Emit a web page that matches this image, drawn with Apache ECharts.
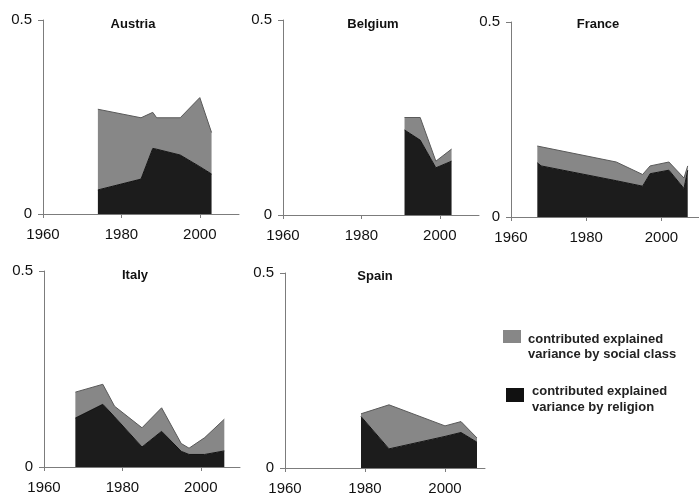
<!DOCTYPE html>
<html>
<head>
<meta charset="utf-8">
<script src="https://cdn.jsdelivr.net/npm/echarts@6/dist/echarts.min.js"></script>
<style>
  html, body { margin: 0; padding: 0; background: #fff; }
  #chart { width: 699px; height: 499px; }
</style>
</head>
<body>
<div id="chart"></div>
<script>
// Explained variance of vote choice, split into the share contributed by
// religion (bottom layer) and by social class (stacked on top).
const countries = ['Austria', 'Belgium', 'France', 'Italy', 'Spain'];

const austriaYears    = [1974, 1985, 1988, 1989, 1995, 2000, 2003];
const austriaReligion = [0.062, 0.090, 0.169, 0.167, 0.152, 0.122, 0.103];
const austriaClass    = [0.208, 0.158, 0.093, 0.081, 0.096, 0.178, 0.107];

const belgiumYears    = [1991, 1995, 1999, 2003];
const belgiumReligion = [0.218, 0.192, 0.121, 0.138];
const belgiumClass    = [0.032, 0.058, 0.017, 0.031];

const franceYears    = [1967, 1968, 1988, 1995, 1997, 2002, 2006, 2007];
const franceReligion = [0.139, 0.131, 0.093, 0.079, 0.111, 0.120, 0.073, 0.120];
const franceClass    = [0.043, 0.049, 0.048, 0.030, 0.020, 0.021, 0.027, 0.011];

const italyYears    = [1968, 1975, 1978, 1985, 1990, 1995, 1997, 2001, 2006];
const italyReligion = [0.125, 0.160, 0.128, 0.051, 0.091, 0.040, 0.032, 0.032, 0.041];
const italyClass    = [0.066, 0.051, 0.027, 0.049, 0.060, 0.020, 0.016, 0.043, 0.081];

const spainYears    = [1979, 1986, 2000, 2004, 2008];
const spainReligion = [0.132, 0.049, 0.081, 0.091, 0.066];
const spainClass    = [0.007, 0.113, 0.027, 0.028, 0.011];

const xTicks = [1960, 1980, 2000];
const yTicks = [0, 0.5];

const classLabel = 'contributed explained\nvariance by social class';
const religionLabel = 'contributed explained\nvariance by religion';

const panels = [
  { years: austriaYears, religion: austriaReligion, cls: austriaClass,
    grid: { left: 43, top: 20, width: 196, height: 194 }, title: [133, 24] },
  { years: belgiumYears, religion: belgiumReligion, cls: belgiumClass,
    grid: { left: 283, top: 20, width: 196, height: 195 }, title: [373, 24] },
  { years: franceYears, religion: franceReligion, cls: franceClass,
    grid: { left: 511, top: 22, width: 197, height: 195 }, title: [598, 24] },
  { years: italyYears, religion: italyReligion, cls: italyClass,
    grid: { left: 44, top: 271, width: 196, height: 196 }, title: [135, 275] },
  { years: spainYears, religion: spainReligion, cls: spainClass,
    grid: { left: 285, top: 273, width: 200, height: 195 }, title: [375, 276] }
];

const FONT = '"Liberation Sans", Arial, sans-serif';
const AXIS_COLOR = '#7c7c7c';
const RELIGION_COLOR = '#1c1c1c';
const CLASS_COLOR = '#878787';

// Rows are [share, year]; the share column comes first so that the stack
// accumulates shares (not years), and encode maps it onto the y axis.
const rows = (xs, vs) => xs.map((x, i) => [vs[i], x]);
const ENCODE = { x: 1, y: 0 };

const grids = [], xAxes = [], yAxes = [], series = [], graphics = [];

panels.forEach((p, i) => {
  grids.push(Object.assign({ containLabel: false }, p.grid));
  xAxes.push({
    type: 'value', gridIndex: i, min: 1960, max: 2010,
    splitLine: { show: false },
    axisLine: { onZero: false, lineStyle: { color: AXIS_COLOR, width: 1 } },
    axisTick: { show: true, length: 4, customValues: xTicks, lineStyle: { color: AXIS_COLOR } },
    axisLabel: { customValues: xTicks, margin: 13, color: '#111', fontSize: 15, fontFamily: FONT,
                 formatter: v => String(v) }
  });
  yAxes.push({
    type: 'value', gridIndex: i, min: 0, max: 0.5,
    splitLine: { show: false },
    axisLine: { show: true, lineStyle: { color: AXIS_COLOR, width: 1 } },
    axisTick: { show: true, length: 5, customValues: yTicks, lineStyle: { color: AXIS_COLOR } },
    axisLabel: { customValues: yTicks, margin: 11, color: '#111', fontSize: 15, fontFamily: FONT,
                 formatter: v => String(v) }
  });
  series.push({
    name: 'religion', type: 'line', xAxisIndex: i, yAxisIndex: i,
    stack: 'panel' + i, symbol: 'none', silent: true, encode: ENCODE,
    lineStyle: { color: '#111', width: 1 },
    areaStyle: { color: RELIGION_COLOR, opacity: 1 },
    data: rows(p.years, p.religion)
  });
  series.push({
    name: 'social class', type: 'line', xAxisIndex: i, yAxisIndex: i,
    stack: 'panel' + i, symbol: 'none', silent: true, encode: ENCODE,
    lineStyle: { color: '#5a5a5a', width: 1 },
    areaStyle: { color: CLASS_COLOR, opacity: 1 },
    data: rows(p.years, p.cls)
  });
  graphics.push({
    type: 'text', x: p.title[0], y: p.title[1],
    style: {
      text: countries[i], textAlign: 'center', textVerticalAlign: 'middle',
      font: 'bold 13px ' + FONT, fill: '#111'
    }
  });
});

// Legend: two swatches with their two-line captions
const legendFont = 'bold 13px ' + FONT;
graphics.push(
  { type: 'rect', shape: { x: 503, y: 330, width: 18, height: 13 }, style: { fill: CLASS_COLOR } },
  { type: 'text', x: 528, y: 332,
    style: { text: classLabel, font: legendFont, fill: '#222', lineHeight: 15 } },
  { type: 'rect', shape: { x: 506, y: 388, width: 18, height: 14 }, style: { fill: '#111' } },
  { type: 'text', x: 532, y: 383,
    style: { text: religionLabel, font: legendFont, fill: '#222', lineHeight: 16 } }
);

const chart = echarts.init(document.getElementById('chart'), null, { renderer: 'canvas' });
chart.setOption({
  animation: false,
  backgroundColor: '#fff',
  grid: grids,
  xAxis: xAxes,
  yAxis: yAxes,
  series: series,
  graphic: graphics
});
</script>
</body>
</html>
